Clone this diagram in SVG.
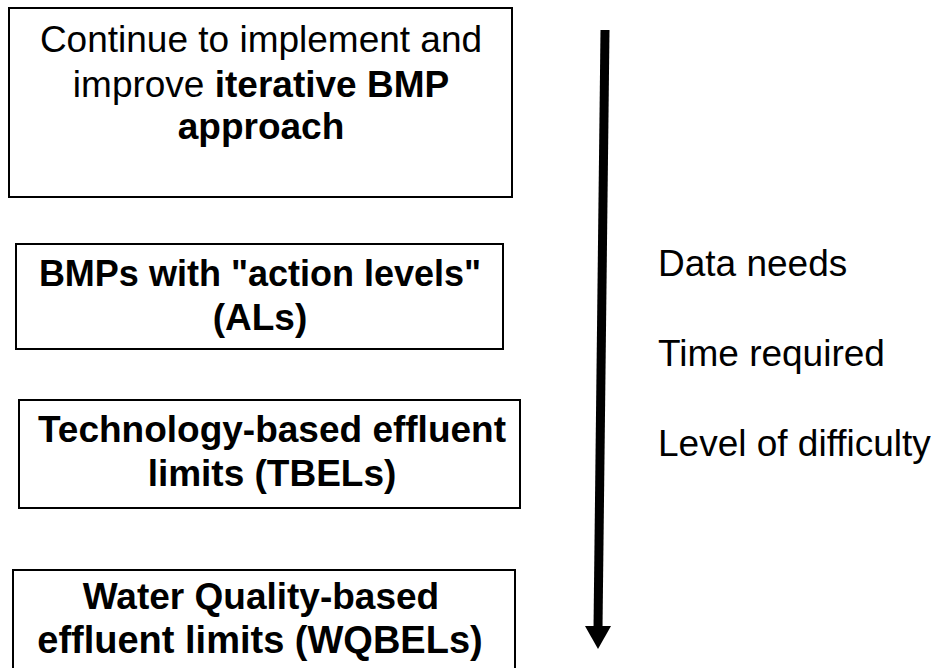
<svg xmlns="http://www.w3.org/2000/svg" width="935" height="668" viewBox="0 0 935 668">
  <style>
    .box { fill: #ffffff; stroke: #000000; stroke-width: 2; }
    .t { font-family: "Liberation Sans", Arial, sans-serif; font-size: 37px; fill: #000000; }
    .c { text-anchor: middle; }
    .b { font-weight: bold; }
  </style>
  <rect x="0" y="0" width="935" height="668" fill="#ffffff"/>

  <g id="node-iterative-bmp">
    <rect class="box" x="9" y="8" width="503" height="189"/>
    <text class="t c" x="261" y="52">Continue to implement and</text>
    <text class="t c" x="261" y="97">improve <tspan class="b">iterative BMP</tspan></text>
    <text class="t c b" x="261" y="139">approach</text>
  </g>

  <g id="node-action-levels">
    <rect class="box" x="16" y="244" width="487" height="105"/>
    <text class="t c b" x="260" y="286" style="font-size:36px">BMPs with "action levels"</text>
    <text class="t c b" x="260" y="330">(ALs)</text>
  </g>

  <g id="node-tbels">
    <rect class="box" x="19" y="400" width="501" height="108"/>
    <text class="t c b" x="272" y="442">Technology-based effluent</text>
    <text class="t c b" x="272" y="486">limits (TBELs)</text>
  </g>

  <g id="node-wqbels">
    <rect class="box" x="13" y="570" width="502" height="110"/>
    <text class="t c b" x="261" y="609">Water Quality-based</text>
    <text class="t c b" x="260" y="653" style="font-size:38px">effluent limits (WQBELs)</text>
  </g>

  <g id="connectors">
    <line x1="605" y1="30" x2="598" y2="628" stroke="#000000" stroke-width="9"/>
    <polygon points="585,626 611,626 598,649" fill="#000000"/>
  </g>

  <g id="labels">
    <text class="t" x="658" y="276">Data needs</text>
    <text class="t" x="658" y="366">Time required</text>
    <text class="t" x="658" y="456">Level of difficulty</text>
  </g>
</svg>
